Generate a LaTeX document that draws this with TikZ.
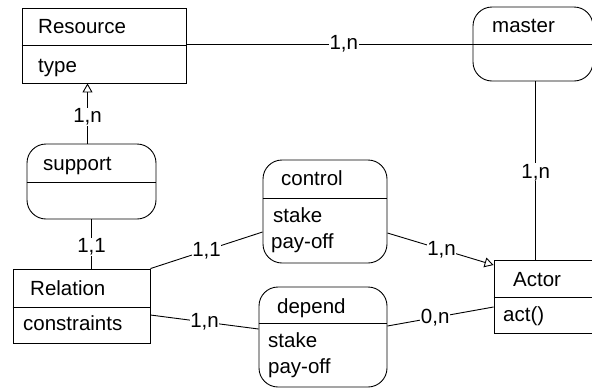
\documentclass[tikz,border=0pt]{standalone}
\usepackage{fontspec}
\setmainfont{Liberation Sans}
\usetikzlibrary{arrows.meta}
\begin{document}
\begin{tikzpicture}[x=1pt,y=-1pt, font=\fontsize{20.5}{24}\selectfont,
  cls/.style={draw, line width=0.9pt, rectangle, inner sep=0pt},
  rel/.style={cls, rounded corners=19pt},
  txt/.style={anchor=base west, inner sep=0pt},
  card/.style={fill=white, inner sep=0.5pt},
  conn/.style={line width=0.9pt},
  tip/.style={-{Triangle[open,length=9pt,width=10pt]}}
]
\useasboundingbox (0,0) rectangle (592,389);
\clip (0,0) rectangle (592,389);

% class boxes
\node[cls, minimum width=164pt, minimum height=75pt] (Resource) at (104,45.5) {};
\draw[conn] (Resource.west |- 0,45) -- (Resource.east |- 0,45);
\node[txt] (tRes) at (38,33) {Resource};
\node[txt] (tType) at (38,72) {type};

\node[cls, minimum width=137pt, minimum height=74pt] (Relation) at (81.5,306) {};
\draw[conn] (Relation.west |- 0,307) -- (Relation.east |- 0,307);
\node[txt] (tRelation) at (30,295) {Relation};
\node[txt] (tConstr) at (23,330) {constraints};

\node[cls, minimum width=116pt, minimum height=73pt] (Actor) at (552,296.5) {};
\draw[conn] (Actor.west |- 0,297) -- (Actor.east |- 0,297);
\node[txt] (tActor) at (513,286) {Actor};
\node[txt] (tAct) at (503,321) {act()};

% relationship boxes
\node[rel, minimum width=120pt, minimum height=74pt] (master) at (533,44) {};
\node[txt] (tMaster) at (492,32) {master};

\node[rel, minimum width=129pt, minimum height=75pt] (support) at (91.5,181.5) {};
\draw[conn] (support.west |- 0,182) -- (support.east |- 0,182);
\node[txt] (tSupport) at (43,170) {support};

\node[rel, minimum width=124pt, minimum height=103pt] (control) at (325,211.5) {};
\draw[conn] (control.west |- 0,198) -- (control.east |- 0,198);
\node[txt] (tControl) at (281,185) {control};
\node[txt] (tStake1) at (273,222) {stake};
\node[txt] (tPay1) at (271,248) {pay-off};

\node[rel, minimum width=128pt, minimum height=100pt] (depend) at (323,337) {};
\draw[conn] (depend.west |- 0,323) -- (depend.east |- 0,323);
\node[txt] (tDepend) at (277,313) {depend};
\node[txt] (tStake2) at (268,347) {stake};
\node[txt] (tPay2) at (268,373) {pay-off};

% connectors
\draw[conn] (Resource.east |- master.west) -- node[card, pos=0.55] {1,n} (master.west);
\draw[conn] (master.west) -- (master.east);
\draw[conn] ([xshift=2.7pt]master.south) -- node[card, pos=0.51] {1,n} ([xshift=2.7pt]master.south |- Actor.north);
\draw[conn, tip] ([xshift=-4pt]support.north) -- node[card, pos=0.44] {1,n} ([xshift=-4pt]support.north |- Resource.south);
\draw[conn] (support.south) -- node[card, pos=0.56] {1,1} (support.south |- Relation.north);
\draw[conn] (Relation.north east) -- node[card, pos=0.5] {1,1} ([yshift=-20.5pt]control.west);
\draw[conn] ([yshift=-9pt]Relation.east) -- node[card, pos=0.5] {1,n} ([yshift=8pt]depend.west);
\draw[conn, tip] ([yshift=-21.5pt]control.east) -- node[card, pos=0.51] {1,n} ([yshift=31.5pt]Actor.west);
\draw[conn] ([yshift=11pt]depend.east) -- node[card, pos=0.45] {0,n} ([yshift=-10.5pt]Actor.west);
\end{tikzpicture}
\end{document}
